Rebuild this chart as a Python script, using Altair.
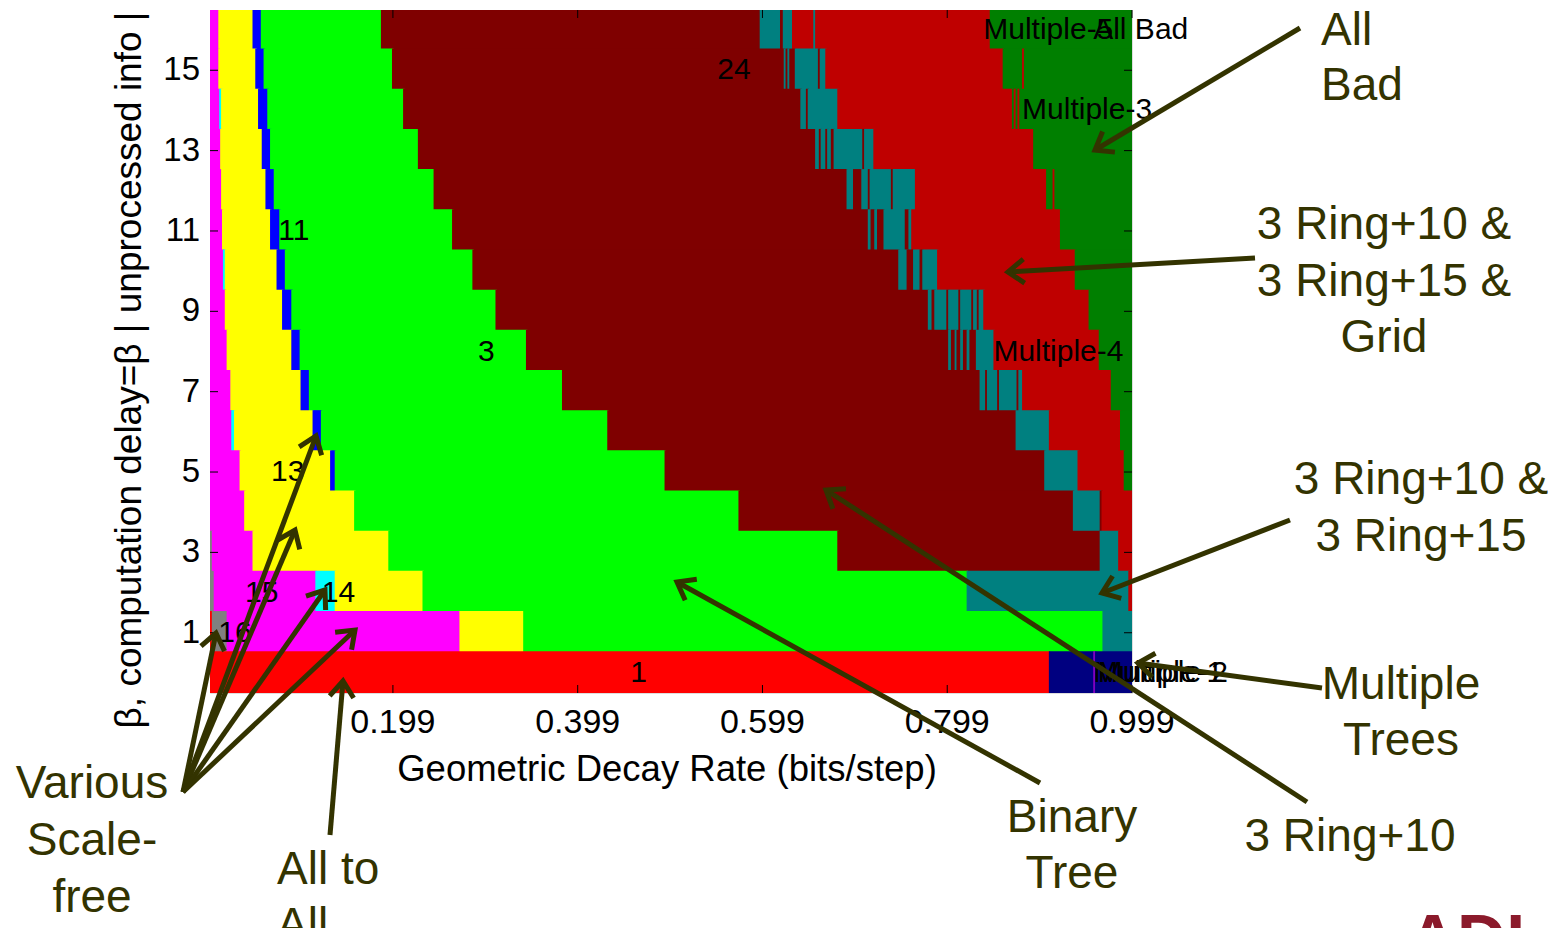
import math
import altair as alt
import pandas as pd

# ---------------- data: per-row segments (end of segment in decay rate, category code) ----------------
CAT_NAMES = {
    "m": "Scale-free 15", "y": "Scale-free 13", "b": "Scale-free 11", "c": "Scale-free 14",
    "s": "Scale-free 16", "g": "Binary Tree", "d": "3 Ring+10", "t": "3 Ring+10 & 3 Ring+15",
    "r": "3 Ring+10 & 3 Ring+15 & Grid", "k": "All Bad", "a": "All to All",
    "n": "Multiple Trees 1", "p": "Multiple Trees 2",
}
CAT_COLORS = {
    "m": "#FF00FF", "y": "#FFFF00", "b": "#0000FF", "c": "#00FFFF", "s": "#808080",
    "g": "#00FF00", "d": "#7F0000", "t": "#008080", "r": "#BF0000", "k": "#007F00",
    "a": "#FF0000", "n": "#000080", "p": "#8000C0",
}

row16 = [(0.010, "m"), (0.047, "y"), (0.056, "b"), (0.186, "g"), (0.596, "d"), (0.618, "t"), (0.621, "d"),
         (0.631, "t"), (0.654, "r"), (0.656, "t"), (0.845, "r"), (0.999, "k")]
row15 = [(0.010, "m"), (0.050, "y"), (0.059, "b"), (0.198, "g"), (0.622, "d"), (0.624, "t"), (0.626, "d"),
         (0.628, "t"), (0.634, "d"), (0.659, "t"), (0.661, "d"), (0.667, "t"), (0.859, "r"), (0.880, "k"),
         (0.882, "r"), (0.999, "k")]
row14 = [(0.011, "m"), (0.013, "c"), (0.053, "y"), (0.063, "b"), (0.210, "g"), (0.640, "d"), (0.646, "t"),
         (0.648, "d"), (0.680, "t"), (0.869, "r"), (0.871, "k"), (0.873, "r"), (0.875, "k"), (0.877, "r"),
         (0.999, "k")]
row13 = [(0.012, "m"), (0.057, "y"), (0.066, "b"), (0.226, "g"), (0.656, "d"), (0.660, "t"), (0.662, "d"),
         (0.667, "t"), (0.669, "d"), (0.673, "t"), (0.676, "d"), (0.707, "t"), (0.709, "d"), (0.719, "t"),
         (0.892, "r"), (0.999, "k")]
row12 = [(0.013, "m"), (0.061, "y"), (0.070, "b"), (0.243, "g"), (0.690, "d"), (0.697, "t"), (0.706, "d"),
         (0.713, "t"), (0.715, "d"), (0.738, "t"), (0.740, "d"), (0.764, "t"), (0.906, "r"), (0.913, "k"),
         (0.915, "r"), (0.999, "k")]
row11 = [(0.014, "m"), (0.066, "y"), (0.076, "b"), (0.263, "g"), (0.713, "d"), (0.716, "t"), (0.720, "d"),
         (0.723, "t"), (0.730, "d"), (0.753, "t"), (0.757, "d"), (0.760, "t"), (0.921, "r"), (0.999, "k")]
row10 = [(0.015, "m"), (0.017, "c"), (0.073, "y"), (0.082, "b"), (0.285, "g"), (0.746, "d"), (0.755, "t"),
         (0.762, "d"), (0.769, "t"), (0.772, "d"), (0.788, "t"), (0.937, "r"), (0.999, "k")]
row9 = [(0.017, "m"), (0.079, "y"), (0.089, "b"), (0.310, "g"), (0.778, "d"), (0.782, "t"), (0.785, "d"),
        (0.798, "t"), (0.800, "d"), (0.811, "t"), (0.813, "d"), (0.825, "t"), (0.827, "d"), (0.831, "t"),
        (0.833, "d"), (0.838, "t"), (0.952, "r"), (0.999, "k")]
row8 = [(0.019, "m"), (0.089, "y"), (0.098, "b"), (0.343, "g"), (0.800, "d"), (0.803, "t"), (0.807, "d"),
        (0.809, "t"), (0.813, "d"), (0.816, "t"), (0.820, "d"), (0.823, "t"), (0.830, "d"), (0.849, "t"),
        (0.963, "r"), (0.999, "k")]
row7 = [(0.023, "m"), (0.099, "y"), (0.108, "b"), (0.382, "g"), (0.834, "d"), (0.840, "t"), (0.842, "d"),
        (0.853, "t"), (0.855, "d"), (0.874, "t"), (0.876, "d"), (0.880, "t"), (0.976, "r"), (0.999, "k")]
row6 = [(0.024, "m"), (0.027, "c"), (0.112, "y"), (0.121, "b"), (0.431, "g"), (0.873, "d"), (0.909, "t"),
        (0.986, "r"), (0.999, "k")]
row5 = [(0.033, "m"), (0.131, "y"), (0.136, "b"), (0.493, "g"), (0.904, "d"), (0.940, "t"), (0.990, "r"),
        (0.999, "k")]
row4 = [(0.038, "m"), (0.157, "y"), (0.573, "g"), (0.935, "d"), (0.964, "t"), (0.966, "d"), (0.999, "r")]
row3 = [(0.003, "s"), (0.047, "m"), (0.194, "y"), (0.680, "g"), (0.964, "d"), (0.984, "t"), (0.999, "r")]
row2 = [(0.005, "s"), (0.115, "m"), (0.136, "c"), (0.231, "y"), (0.820, "g"), (0.995, "t"), (0.999, "r")]
row1 = [(0.003, "a"), (0.019, "s"), (0.271, "m"), (0.340, "y"), (0.967, "g"), (0.999, "t")]
row0 = [(0.909, "a"), (0.957, "n"), (0.959, "p"), (0.999, "n")]

ROWS = {16: row16, 15: row15, 14: row14, 13: row13, 12: row12, 11: row11, 10: row10, 9: row9,
        8: row8, 7: row7, 6: row6, 5: row5, 4: row4, 3: row3, 2: row2, 1: row1, 0: row0}

X_TICKS = [0.199, 0.399, 0.599, 0.799, 0.999]
Y_TICKS = [1, 3, 5, 7, 9, 11, 13, 15]
X_TITLE = "Geometric Decay Rate (bits/step)"
Y_TITLE = "β, computation delay=β | unprocessed info |"

# in-plot region labels (decay rate, beta)
LABEL_TEXT = ["24", "11", "3", "13", "15", "14", "16", "1", "Multiple-4", "Multiple-3",
              "Multiple-5", "All Bad", "Multiple-1", "Multiple-2"]
LABEL_X = [0.550, 0.075, 0.291, 0.067, 0.039, 0.122, 0.010, 0.456, 0.849, 0.880,
           0.838, 0.957, 0.957, 0.962]
LABEL_Y = [15, 11, 8, 5, 2, 2, 1, 0, 8, 14, 16, 16, 0, 0]

# ---------------- layout ----------------
W, H = 922, 683
X0, X1 = 0.001, 0.999
B0, B1 = -0.5, 16.5
PLOT_LEFT, PLOT_TOP = 210, 10
ANN = "#333300"
FONT = "Liberation Sans"
OVX, OVY = 0.0015, 0.04   # small overlap (covered by the next cell) to hide anti-aliasing seams


def to_x(px):
    return X0 + (px - PLOT_LEFT) / W * (X1 - X0)


def to_y(py):
    return B1 - (py - PLOT_TOP) / H * (B1 - B0)


records = []
for beta, segs in ROWS.items():
    start = X0
    for end, code in segs:
        records.append({"beta": beta, "x0": start, "x1": min(end + OVX, X1), "cat": CAT_NAMES[code],
                        "y0": beta - 0.5, "y1": min(beta + 0.5 + OVY, B1)})
        start = end
df = pd.DataFrame(records)

xs = alt.Scale(domain=[X0, X1], nice=False, zero=False)
ys = alt.Scale(domain=[B0, B1], nice=False, zero=False)
cscale = alt.Scale(domain=[CAT_NAMES[k] for k in CAT_NAMES], range=[CAT_COLORS[k] for k in CAT_NAMES])

rects = alt.Chart(df).mark_rect(strokeWidth=0).encode(
    x=alt.X("x0:Q", scale=xs, axis=None),
    x2="x1:Q",
    y=alt.Y("y0:Q", scale=ys, axis=None),
    y2="y1:Q",
    color=alt.Color("cat:N", scale=cscale, legend=None),
)

ydf = pd.DataFrame({"v": Y_TICKS})
xdf = pd.DataFrame({"v": X_TICKS})
tick_l = alt.Chart(ydf).mark_rule(color="black", strokeWidth=1).encode(
    y=alt.Y("v:Q", scale=ys, axis=None), x=alt.value(0), x2=alt.value(8))
tick_r = alt.Chart(ydf).mark_rule(color="black", strokeWidth=1).encode(
    y=alt.Y("v:Q", scale=ys, axis=None), x=alt.value(W - 8), x2=alt.value(W))
tick_b = alt.Chart(xdf).mark_rule(color="black", strokeWidth=1).encode(
    x=alt.X("v:Q", scale=xs, axis=None), y=alt.value(H - 8), y2=alt.value(H))
tick_t = alt.Chart(xdf).mark_rule(color="black", strokeWidth=1).encode(
    x=alt.X("v:Q", scale=xs, axis=None), y=alt.value(0), y2=alt.value(8))

# axis labels and titles
xlab = alt.Chart(xdf).mark_text(align="center", baseline="middle", fontSize=34, font=FONT,
                                color="black").encode(
    x=alt.X("v:Q", scale=xs, axis=None), y=alt.value(H + 30), text=alt.Text("v:Q", format=".3f"))
ylab = alt.Chart(ydf).mark_text(align="right", baseline="middle", fontSize=33, font=FONT,
                                color="black").encode(
    y=alt.Y("v:Q", scale=ys, axis=None), x=alt.value(-10), text=alt.Text("v:Q", format="d"))
xtitle = alt.Chart(pd.DataFrame({"t": [X_TITLE]})).mark_text(
    align="center", baseline="middle", fontSize=36.5, font=FONT, color="black").encode(
    x=alt.value(457), y=alt.value(760), text="t:N")
ytitle = alt.Chart(pd.DataFrame({"t": [Y_TITLE]})).mark_text(
    align="center", baseline="middle", fontSize=37, font=FONT, color="black", angle=270).encode(
    x=alt.value(-80), y=alt.value(360), text="t:N")

ldf = pd.DataFrame({"text": LABEL_TEXT, "x": LABEL_X, "y": LABEL_Y})
labels = alt.Chart(ldf).mark_text(align="left", baseline="middle", fontSize=30, font=FONT,
                                  color="black").encode(
    x=alt.X("x:Q", scale=xs, axis=None), y=alt.Y("y:Q", scale=ys, axis=None), text="text:N")

# ---------------- annotations (page pixel positions converted through the scales) ----------------
CENTER_TEXT = ["3 Ring+10 &", "3 Ring+15 &", "Grid", "3 Ring+10 &", "3 Ring+15", "Multiple", "Trees",
               "3 Ring+10", "Binary", "Tree", "Various", "Scale-", "free"]
CENTER_PX = [1384, 1384, 1384, 1421, 1421, 1401, 1401, 1350, 1072, 1072, 92, 92, 92]
CENTER_PY = [225, 282, 338, 480, 537, 685, 741, 837, 818, 874, 784, 841, 898]
LEFT_TEXT = ["All", "Bad", "All to", "All"]
LEFT_PX = [1321, 1321, 277, 277]
LEFT_PY = [31, 86, 870, 926]

ARROWS = [
    ((1300, 28), (1095, 150)),
    ((1255, 258), (1008, 272)),
    ((1290, 520), (1102, 593)),
    ((1322, 688), (1138, 663)),
    ((1307, 802), (826, 490)),
    ((1040, 783), (677, 582)),
    ((330, 835), (343, 681)),
    ((183, 792), (216, 633)),
    ((183, 792), (316, 436)),
    ((183, 792), (295, 530)),
    ((183, 792), (325, 590)),
    ((183, 792), (355, 630)),
]

cdf = pd.DataFrame({"text": CENTER_TEXT, "x": [to_x(p) for p in CENTER_PX], "y": [to_y(p) for p in CENTER_PY]})
ltdf = pd.DataFrame({"text": LEFT_TEXT, "x": [to_x(p) for p in LEFT_PX], "y": [to_y(p) for p in LEFT_PY]})
ann_c = alt.Chart(cdf).mark_text(align="center", baseline="middle", fontSize=46, font=FONT, color=ANN).encode(
    x=alt.X("x:Q", scale=xs, axis=None), y=alt.Y("y:Q", scale=ys, axis=None), text="text:N")
ann_l = alt.Chart(ltdf).mark_text(align="left", baseline="middle", fontSize=46, font=FONT, color=ANN).encode(
    x=alt.X("x:Q", scale=xs, axis=None), y=alt.Y("y:Q", scale=ys, axis=None), text="text:N")

adf = pd.DataFrame({
    "x": [to_x(s[0]) for s, t in ARROWS], "y": [to_y(s[1]) for s, t in ARROWS],
    "x2": [to_x(t[0]) for s, t in ARROWS], "y2": [to_y(t[1]) for s, t in ARROWS],
    "ang": [math.degrees(math.atan2(t[1] - s[1], t[0] - s[0])) % 360 for s, t in ARROWS],
})
shafts = alt.Chart(adf).mark_rule(color=ANN, strokeWidth=5).encode(
    x=alt.X("x:Q", scale=xs, axis=None), y=alt.Y("y:Q", scale=ys, axis=None), x2="x2:Q", y2="y2:Q")
heads = alt.Chart(adf).mark_point(shape="M-1,-0.75L0,0L-1,0.75", filled=False, strokeWidth=5, size=1024,
                                  color=ANN, opacity=1, strokeJoin="miter").encode(
    x=alt.X("x2:Q", scale=xs, axis=None), y=alt.Y("y2:Q", scale=ys, axis=None),
    angle=alt.Angle("ang:Q", scale=None))

logo = alt.Chart(pd.DataFrame({"text": ["ADI"], "x": [to_x(1408)], "y": [to_y(962)]})).mark_text(
    align="left", baseline="alphabetic", fontSize=68, font=FONT, fontWeight="bold", color="#8B1A2B").encode(
    x=alt.X("x:Q", scale=xs, axis=None), y=alt.Y("y:Q", scale=ys, axis=None), text="text:N")

chart = alt.layer(rects, tick_l, tick_r, tick_b, tick_t, labels, xlab, ylab, xtitle, ytitle,
                  shafts, heads, ann_c, ann_l, logo).properties(
    width=W, height=H,
    autosize=alt.AutoSizeParams(type="none"),
    padding={"left": PLOT_LEFT - 8, "top": PLOT_TOP - 8, "right": 1544 - (PLOT_LEFT - 8) - W,
             "bottom": 920 - (PLOT_TOP - 8) - H},
).configure_view(stroke="#444444", strokeWidth=1).configure(background="white")

chart.save("out.html", embed_options={"renderer": "svg", "actions": False})
